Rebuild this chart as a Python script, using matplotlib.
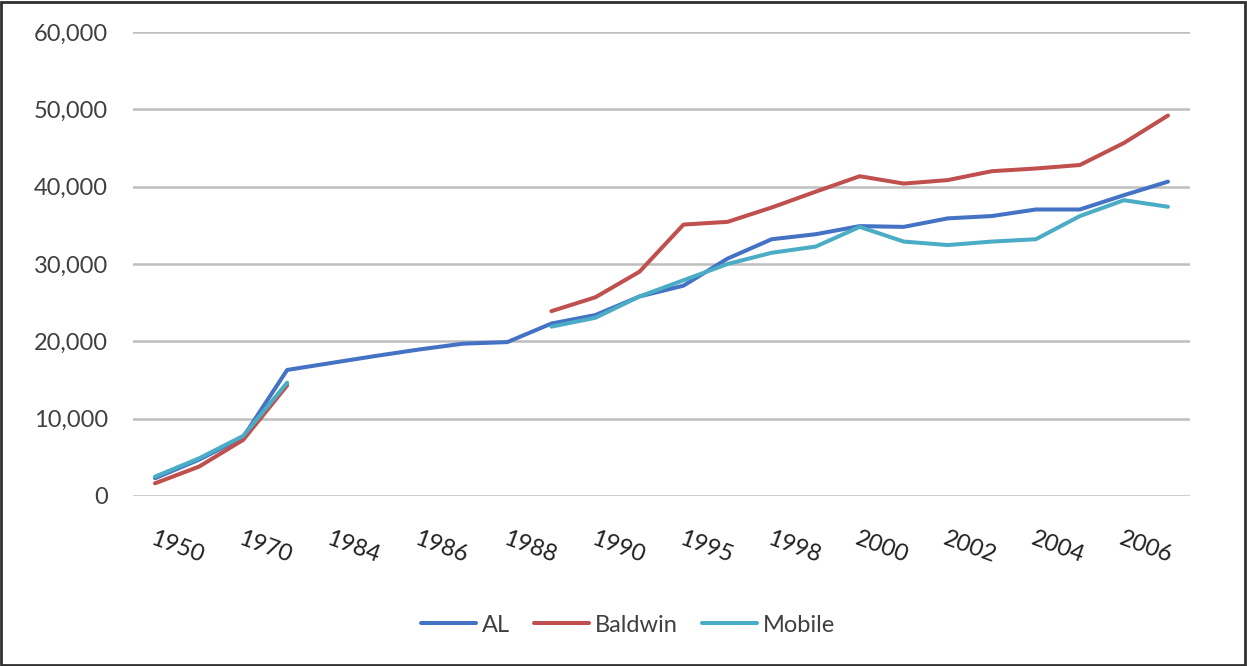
import numpy as np
import matplotlib
matplotlib.use("Agg")
import matplotlib.pyplot as plt
from matplotlib.patches import Rectangle

categories = ["1950", "1960", "1970", "1980", "1984", "1985", "1986", "1987",
              "1988", "1989", "1990", "1993", "1995", "1997", "1998", "1999",
              "2000", "2001", "2002", "2003", "2004", "2005", "2006", "2007"]
nan = np.nan
al = [2300, 4700, 7600, 16300, 17200, 18100, 18950, 19700,
      19900, 22300, 23400, 25800, 27200, 30700, 33200, 33850,
      34900, 34800, 35900, 36200, 37050, 37050, 38900, 40650]
baldwin = [1640, 3800, 7250, 14300, nan, nan, nan, nan,
           nan, 23900, 25700, 29000, 35100, 35450, 37300, 39350,
           41350, 40400, 40850, 42000, 42350, 42800, 45650, 49200]
mobile = [2500, 4870, 7760, 14650, nan, nan, nan, nan,
          nan, 21900, 23050, 25800, 27900, 30000, 31450, 32250,
          34800, 32900, 32450, 32900, 33200, 36200, 38250, 37400]
series_names = ["AL", "Baldwin", "Mobile"]
y_ticks = [0, 10000, 20000, 30000, 40000, 50000, 60000]

colors = ["#4472C4", "#C0504D", "#4BACC6"]
text_color = "#404040"
font = ["Lato", "DejaVu Sans"]

W, H = 1247, 666
fig = plt.figure(figsize=(W / 100, H / 100), dpi=100)
fig.patch.set_facecolor("white")

left, right, top, bottom = 133, 1190, 32, 496
ax = fig.add_axes([left / W, 1 - bottom / H, (right - left) / W, (bottom - top) / H])

x = np.arange(len(categories))
for vals, name, c in zip([al, baldwin, mobile], series_names, colors):
    ax.plot(x, vals, color=c, lw=2.9, label=name, solid_capstyle="round",
            solid_joinstyle="round")

ax.set_xlim(-0.5, len(categories) - 0.5)
ax.set_ylim(0, 60000)
ax.set_yticks(y_ticks)
ax.set_yticklabels([f"{v:,}" for v in y_ticks], fontsize=17, color=text_color,
                   family=font)
ax.yaxis.grid(True, color="#BEBEBE", lw=1.8)
ax.set_axisbelow(True)
ax.tick_params(axis="y", length=0, pad=18)

ax.set_xticks(x[::2])
ax.set_xticklabels(categories[::2], rotation=-20, ha="left", va="top",
                   rotation_mode="anchor", fontsize=17, color="#202020",
                   family=font)
ax.tick_params(axis="x", length=0, pad=23)

for s in ax.spines.values():
    s.set_visible(False)

leg = fig.legend(loc="center", bbox_to_anchor=(628 / W, 1 - 625 / H), ncol=3,
                 frameon=False, handlelength=2.3, handletextpad=0.25,
                 columnspacing=1.05, prop={"family": font, "size": 17})
for t in leg.get_texts():
    t.set_color(text_color)

fig.patches.append(Rectangle((0.001, 0.002), 0.997, 0.995, transform=fig.transFigure,
                             fill=False, edgecolor="#303030", lw=2.0))

fig.savefig("out.png", dpi=100)
